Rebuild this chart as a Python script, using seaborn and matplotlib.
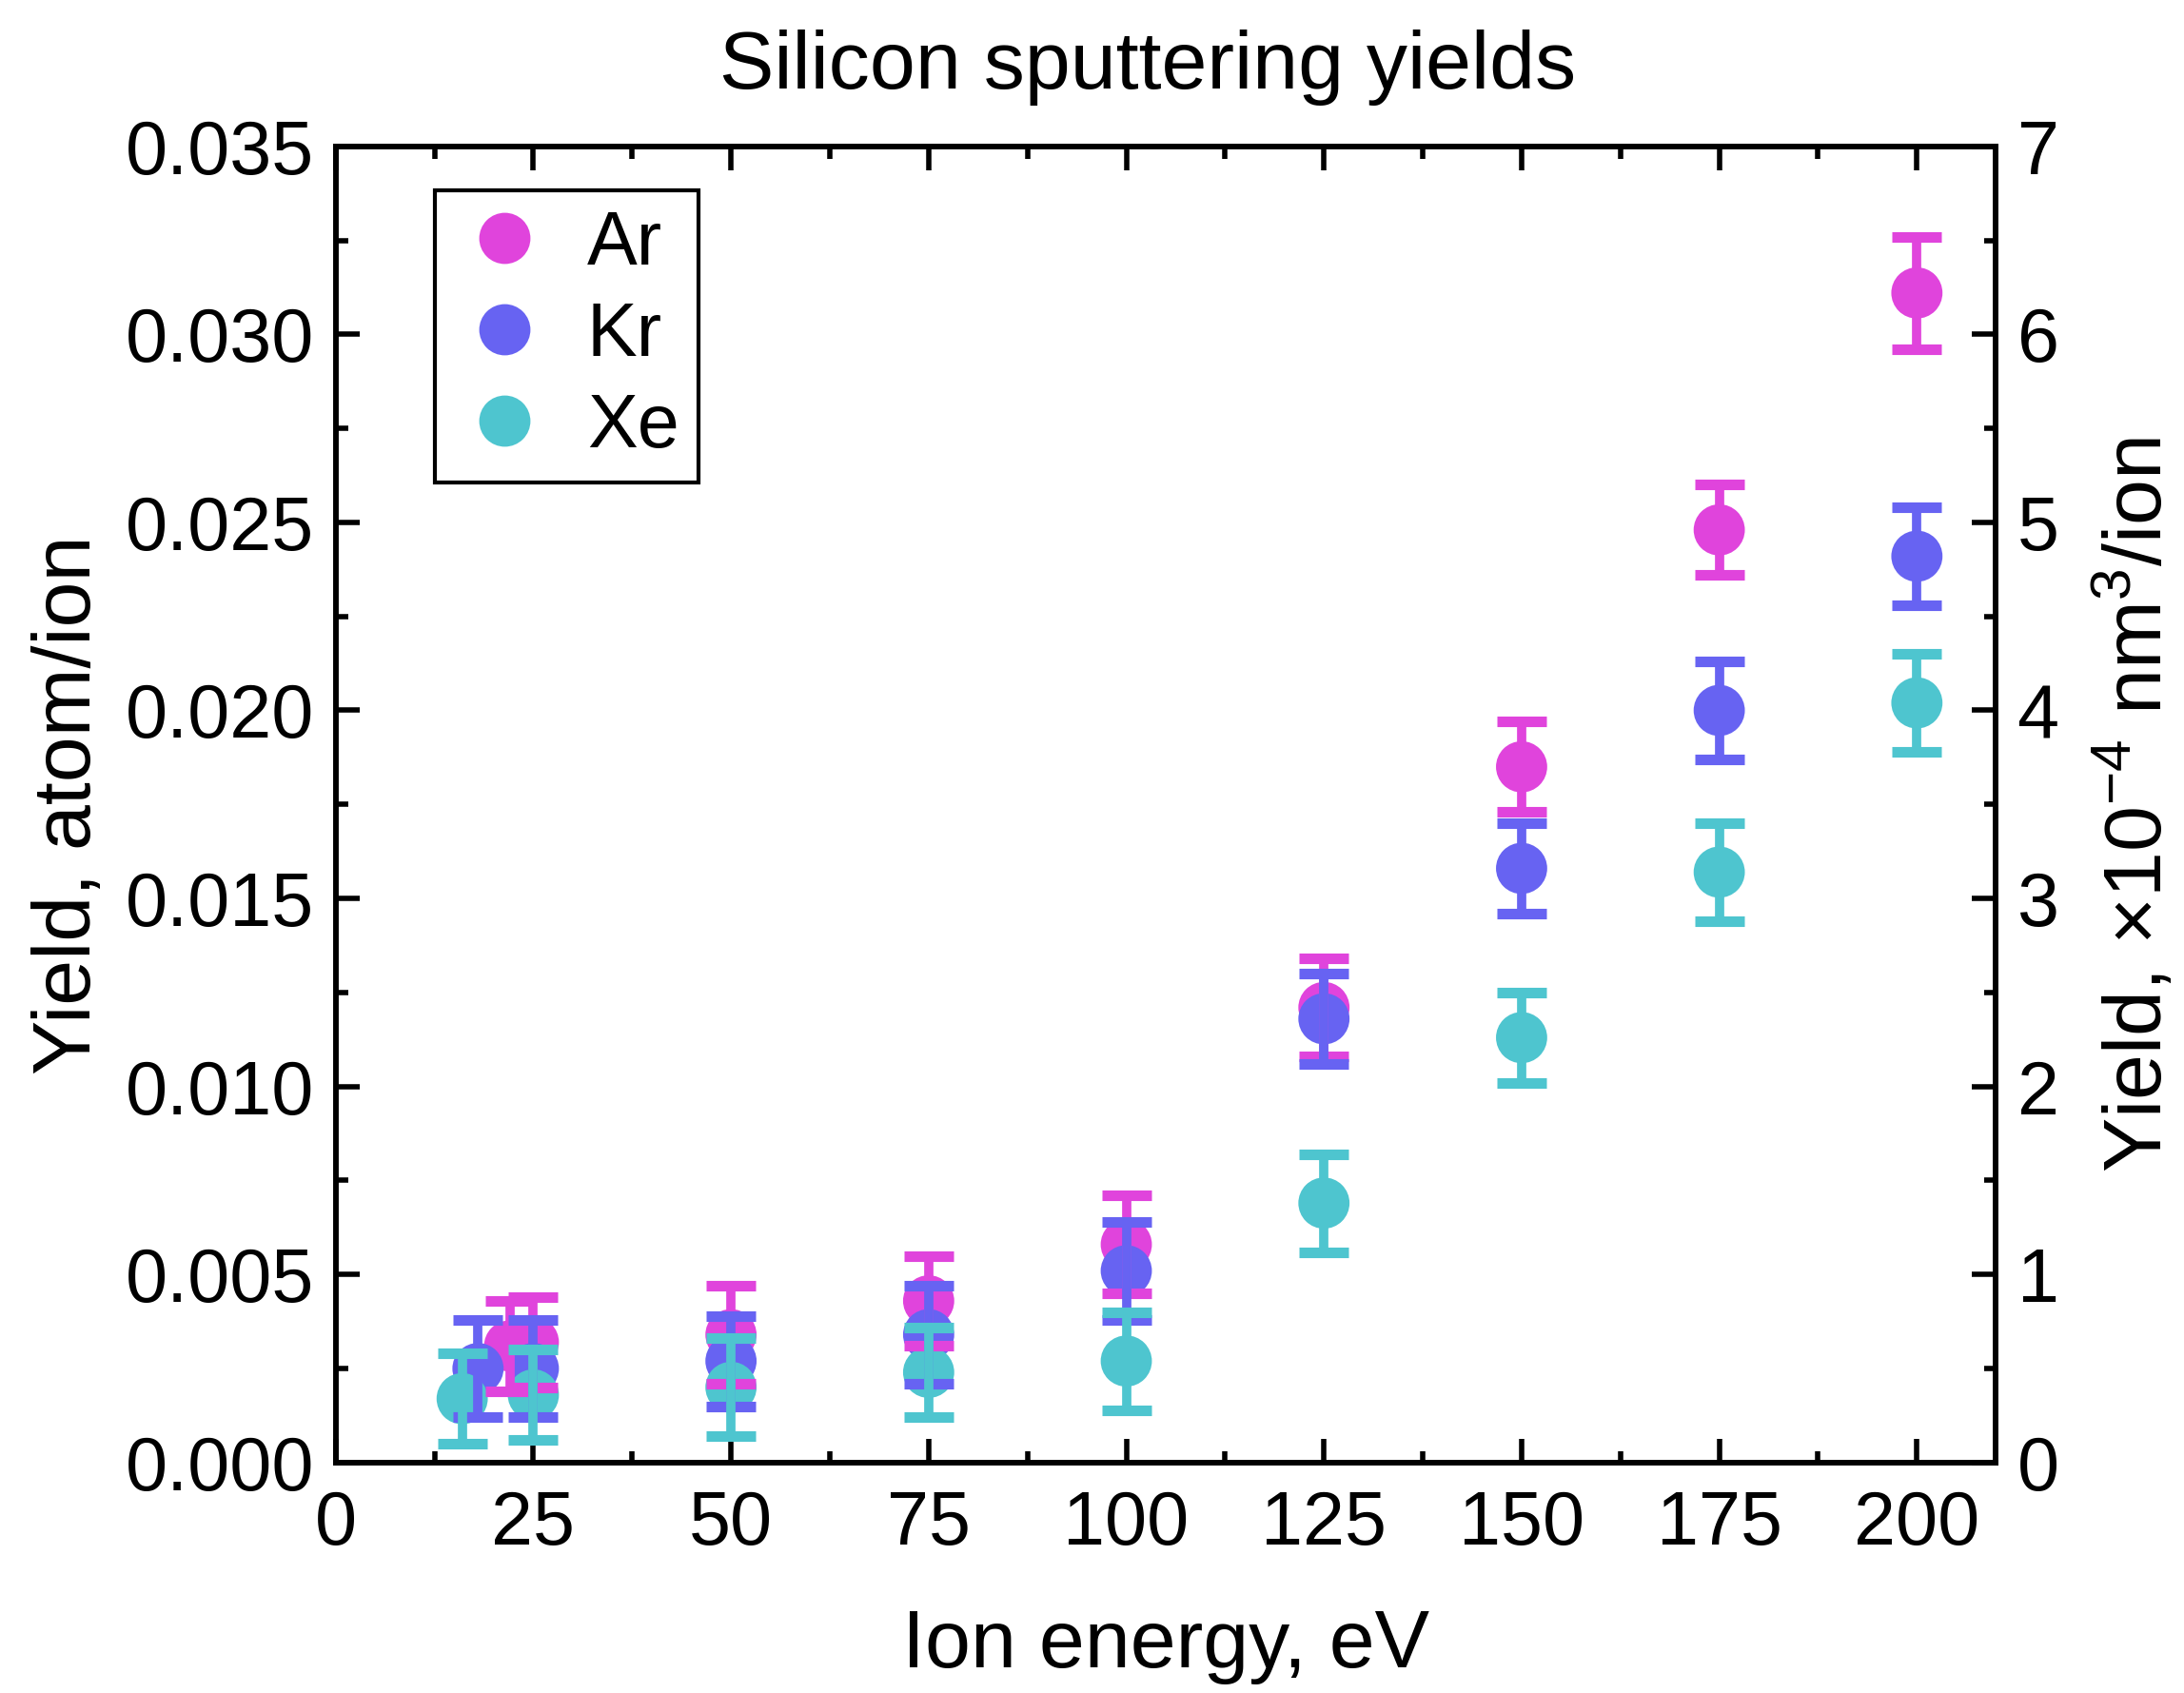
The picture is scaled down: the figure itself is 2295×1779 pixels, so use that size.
import numpy as np
import pandas as pd
import seaborn as sns
import matplotlib.pyplot as plt
from matplotlib.ticker import MultipleLocator, FormatStrFormatter

# values
ions = ["Ar", "Kr", "Xe"]
colors = ["#E044DC", "#6763F2", "#4EC5CF"]

ar_energy = [22, 25, 50, 75, 100, 125, 150, 175, 200]
ar_yield = [0.0031, 0.0032, 0.0034, 0.0043, 0.0058, 0.0121, 0.0185, 0.0248, 0.0311]
ar_err = [0.0012, 0.0012, 0.0013, 0.0012, 0.0013, 0.0013, 0.0012, 0.0012, 0.0015]

kr_energy = [18, 25, 50, 75, 100, 125, 150, 175, 200]
kr_yield = [0.0025, 0.0025, 0.0027, 0.0034, 0.0051, 0.0118, 0.0158, 0.0200, 0.0241]
kr_err = [0.0013, 0.0013, 0.0012, 0.0013, 0.0013, 0.0012, 0.0012, 0.0013, 0.0013]

xe_energy = [16, 25, 50, 75, 100, 125, 150, 175, 200]
xe_yield = [0.0017, 0.0018, 0.0020, 0.0024, 0.0027, 0.0069, 0.0113, 0.0157, 0.0202]
xe_err = [0.0012, 0.0012, 0.0013, 0.0012, 0.0013, 0.0013, 0.0012, 0.0013, 0.0013]

df = pd.concat([
    pd.DataFrame({"energy": ar_energy, "yield": ar_yield, "err": ar_err, "ion": "Ar"}),
    pd.DataFrame({"energy": kr_energy, "yield": kr_yield, "err": kr_err, "ion": "Kr"}),
    pd.DataFrame({"energy": xe_energy, "yield": xe_yield, "err": xe_err, "ion": "Xe"}),
], ignore_index=True)

sns.set_theme(style="ticks")
plt.rcParams["font.family"] = ["Liberation Sans", "DejaVu Sans"]
plt.rcParams["mathtext.fontset"] = "custom"
plt.rcParams["mathtext.rm"] = "Liberation Sans"
plt.rcParams["mathtext.it"] = "Liberation Sans"
for k in ["text.color", "axes.labelcolor", "xtick.color", "ytick.color", "axes.edgecolor"]:
    plt.rcParams[k] = "black"

fig = plt.figure(figsize=(22.95, 17.79), dpi=100)
ax = fig.add_axes([0.1537, 0.1361, 0.9139 - 0.1537, 0.9136 - 0.1361])

sns.scatterplot(data=df, x="energy", y="yield", hue="ion", hue_order=ions,
                palette=colors, s=1500, edgecolor="none", linewidth=0,
                alpha=1, zorder=2, ax=ax)

# error bars sit over the markers
for ion, c in zip(ions, colors):
    d = df[df["ion"] == ion]
    ax.errorbar(d["energy"], d["yield"], yerr=d["err"], fmt="none",
                ecolor=c, elinewidth=7, capsize=18.5, capthick=8, zorder=3)

ax.set_xlim(0, 210)
ax.set_ylim(0, 0.035)
ax.xaxis.set_major_locator(MultipleLocator(25))
ax.xaxis.set_minor_locator(MultipleLocator(12.5))
ax.yaxis.set_major_locator(MultipleLocator(0.005))
ax.yaxis.set_minor_locator(MultipleLocator(0.0025))
ax.yaxis.set_major_formatter(FormatStrFormatter("%.3f"))

ax.tick_params(axis="both", which="major", direction="in", length=18, width=4,
               labelsize=57, colors="black", top=True)
ax.tick_params(axis="x", which="major", pad=20)
ax.tick_params(axis="y", which="major", pad=16)
ax.tick_params(axis="both", which="minor", direction="in", length=9, width=4, top=True)

for sp in ax.spines.values():
    sp.set_visible(True)
    sp.set_linewidth(4)
    sp.set_color("black")

ax.set_xlabel("Ion energy, eV", fontsize=62, labelpad=36)
ax.set_ylabel("Yield, atom/ion", fontsize=62, labelpad=14)
ax.set_title("Silicon sputtering yields", fontsize=62, pad=44, x=0.489)

ax2 = ax.twinx()
ax2.set_ylim(0, 7)
ax2.yaxis.set_major_locator(MultipleLocator(1))
ax2.yaxis.set_minor_locator(MultipleLocator(0.5))
ax2.tick_params(axis="y", which="major", direction="in", length=18, width=4,
                labelsize=57, pad=16, colors="black")
ax2.tick_params(axis="y", which="minor", direction="in", length=9, width=4)
for sp in ax2.spines.values():
    sp.set_linewidth(4)
    sp.set_color("black")
ax2.set_ylabel("Yield, $\\times$10$^{-4}$ nm$^{3}$/ion", fontsize=62, labelpad=27)

leg = ax.legend(loc="upper left", bbox_to_anchor=(0.0598, 0.9665), fontsize=57,
                frameon=True, fancybox=False, edgecolor="black", framealpha=1,
                handlelength=1.35, handletextpad=0.42, labelspacing=0.265,
                borderpad=0.25, borderaxespad=0, title=None)
leg.get_frame().set_linewidth(3)

fig.savefig("out.png", dpi=100)
